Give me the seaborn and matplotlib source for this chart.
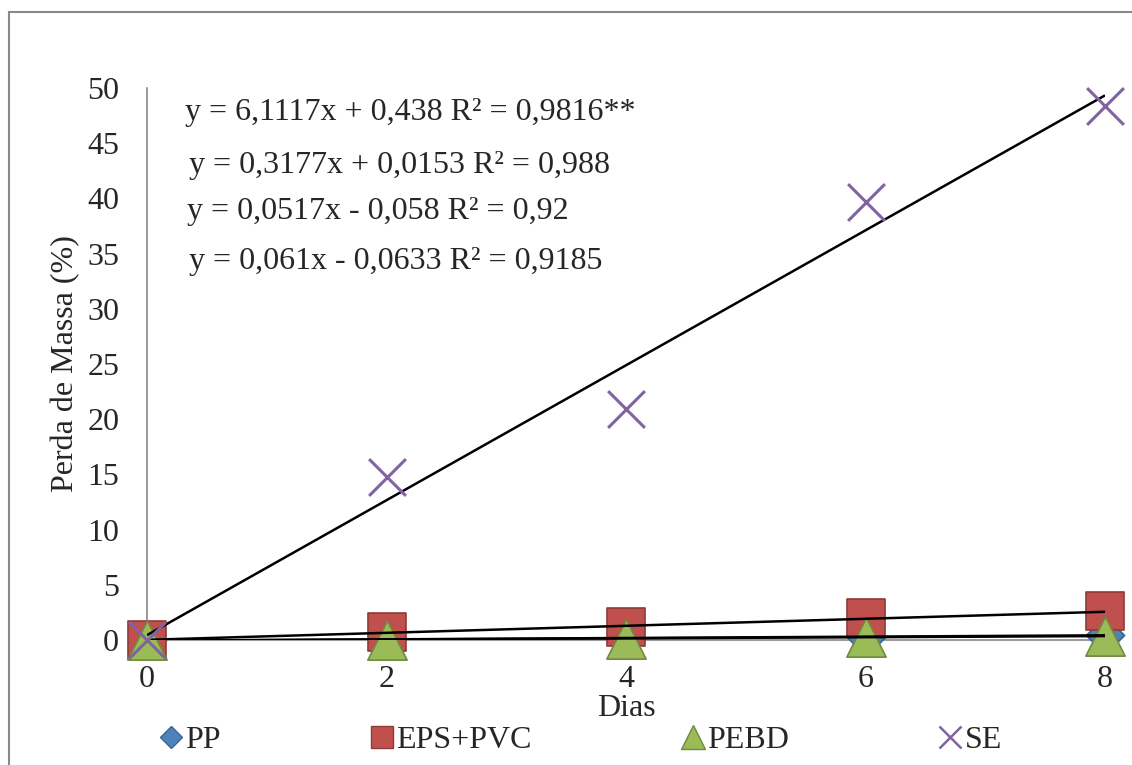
import numpy as np
import pandas as pd
import matplotlib
matplotlib.use("Agg")
import matplotlib.pyplot as plt
from matplotlib.lines import Line2D
from matplotlib.patches import Rectangle
import seaborn as sns

# data
dias = [0, 2, 4, 6, 8]
pp = [0, 0.05, 0.15, 0.3, 0.45]
eps_pvc = [0, 0.7, 1.2, 2.0, 2.6]
pebd = [0, 0.04, 0.12, 0.25, 0.38]
se = [0, 14.8, 20.9, 39.7, 48.4]

series_names = ["PP", "EPS+PVC", "PEBD", "SE"]
slopes = [0.061, 0.3177, 0.0517, 6.1117]
intercepts = [-0.0633, 0.0153, -0.058, 0.438]

equations = [
    "y = 6,1117x + 0,438 R² = 0,9816**",
    "y = 0,3177x + 0,0153 R² = 0,988",
    "y = 0,0517x - 0,058 R² = 0,92",
    "y = 0,061x - 0,0633 R² = 0,9185",
]

df = pd.DataFrame({
    "Dias": dias * 4,
    "Perda": pp + eps_pvc + pebd + se,
    "Serie": [n for n in series_names for _ in dias],
})

sns.set_style("white")
plt.rcParams["font.family"] = ["Liberation Serif", "DejaVu Serif"]
FS = 23

colors = {"PP": "#4F81BD", "EPS+PVC": "#C0504D", "PEBD": "#9BBB59", "SE": "#8064A2"}
edges = {"PP": "#3A6595", "EPS+PVC": "#8E3B38", "PEBD": "#71893F", "SE": "#8064A2"}
markers = {"PP": "D", "EPS+PVC": "s", "PEBD": "^", "SE": "x"}
sizes = {"PP": 380, "EPS+PVC": 750, "PEBD": 800, "SE": 700}

fig = plt.figure(figsize=(11.32, 7.65), dpi=100)
ax = fig.add_axes([147 / 1132, 125 / 765, 958 / 1132, 552 / 765])

# trend lines
xs = np.array([dias[0], dias[-1]])
for m, b in zip(slopes, intercepts):
    ax.plot(xs, m * xs + b, color="black", lw=1.8, zorder=4, solid_capstyle="butt")

for name in series_names:
    sub = df[df["Serie"] == name]
    if name == "SE":
        sns.scatterplot(data=sub, x="Dias", y="Perda", marker="x", s=sizes[name],
                        color=colors[name], linewidth=2.2, ax=ax, zorder=5,
                        clip_on=False, legend=False)
    else:
        sns.scatterplot(data=sub, x="Dias", y="Perda", marker=markers[name],
                        s=sizes[name], color=colors[name], edgecolor=edges[name],
                        linewidth=1.2, ax=ax, zorder=3, clip_on=False, legend=False)

ax.set_xlim(0, 8)
ax.set_ylim(0, 50)
ax.set_xticks(dias)
ax.set_yticks(range(0, 51, 5))
ax.tick_params(axis="y", length=0, pad=20, labelsize=FS)
ax.tick_params(axis="x", length=5, width=1, color="#898989", direction="out",
               pad=13, labelsize=FS)
for s in ["top", "right"]:
    ax.spines[s].set_visible(False)
for s in ["left", "bottom"]:
    ax.spines[s].set_color("#898989")
    ax.spines[s].set_linewidth(1.2)
ax.set_xlabel("Dias", fontsize=FS, labelpad=0)
ax.set_ylabel("Perda de Massa (%)", fontsize=FS, labelpad=5)

eq_pos = [(0.0397, 0.9565), (0.0438, 0.8605), (0.0417, 0.7754), (0.0438, 0.6848)]
for txt, (px, py) in zip(equations, eq_pos):
    ax.text(px, py, txt, transform=ax.transAxes, fontsize=FS, va="center", ha="left")

leg_ms = {"PP": 11, "EPS+PVC": 16, "PEBD": 17, "SE": 16}
handles = [Line2D([], [], ls="none", marker=markers[n], color=colors[n],
                  markeredgecolor=edges[n], markersize=leg_ms[n],
                  markeredgewidth=1.0 if n != "SE" else 1.8)
           for n in series_names]
fig.legend(handles, series_names, loc="center left", ncol=4, mode="expand",
           bbox_to_anchor=(145 / 1132, 25 / 765, 870 / 1132, 0), frameon=False,
           fontsize=FS, handlelength=0.8, handletextpad=0.05, borderaxespad=0)

fig.patches.append(Rectangle((9 / 1132, -0.1), 1.5, 1.0 - 12 / 765 + 0.1,
                             transform=fig.transFigure, fill=False,
                             edgecolor="#898989", lw=1.5))

fig.savefig("out.png", dpi=100)
